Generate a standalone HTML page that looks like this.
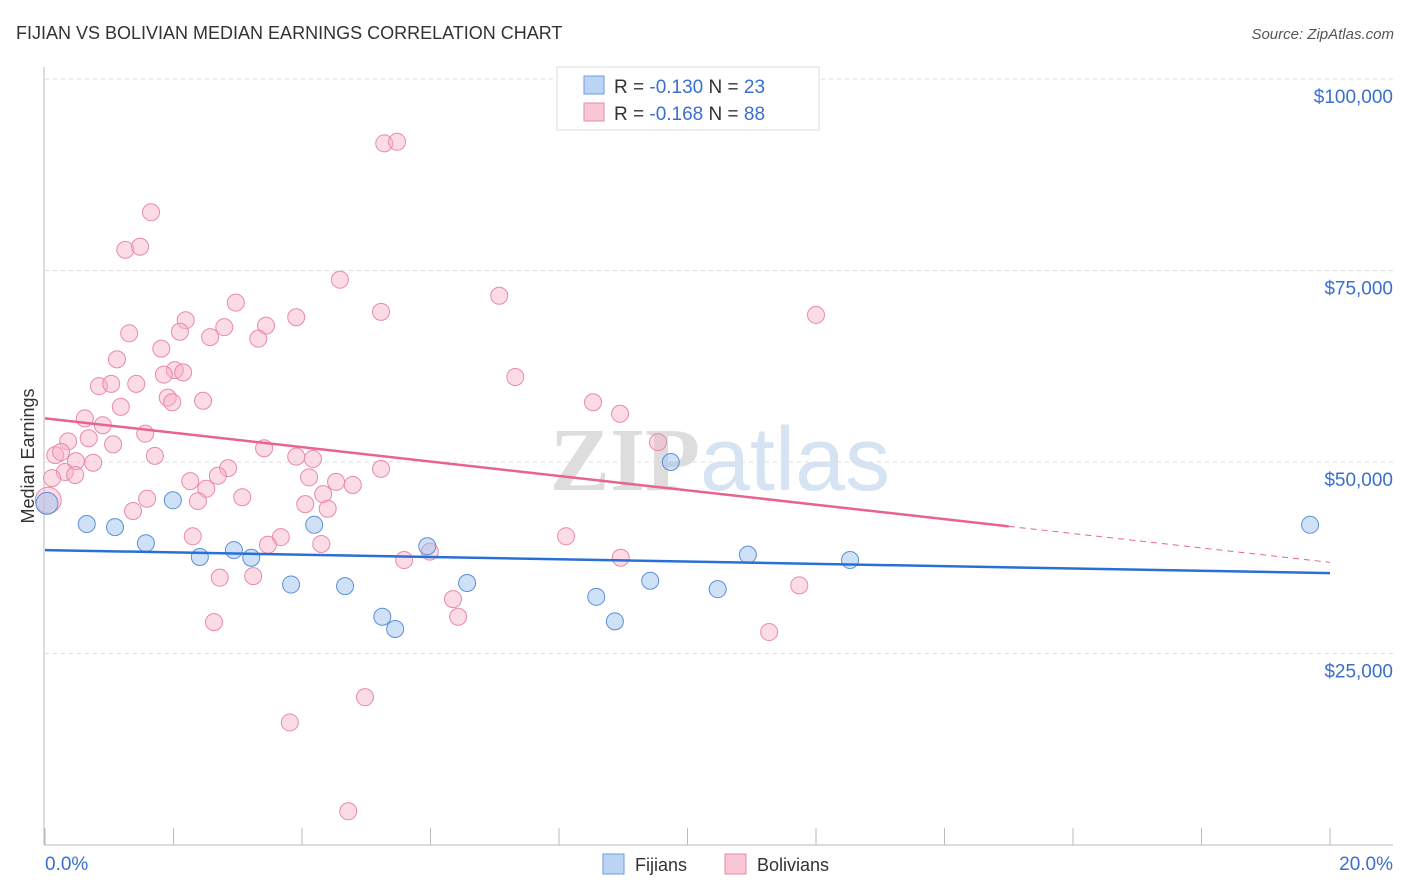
<!DOCTYPE html>
<html><head><meta charset="utf-8"><style>
body{margin:0;background:#fff;font-family:"Liberation Sans",sans-serif}
svg{display:block}
</style></head><body>
<svg id="chart" width="1406" height="892">
<text x="16" y="39" font-size="18" fill="#333">FIJIAN VS BOLIVIAN MEDIAN EARNINGS CORRELATION CHART</text>
<text x="1394" y="39" font-size="15" fill="#555" font-style="italic" text-anchor="end">Source: ZipAtlas.com</text>
<text x="720" y="490" font-size="90" fill="#e4e4e4" text-anchor="middle" font-family="Liberation Serif,serif"><tspan fill="#ddd" font-weight="bold">ZIP</tspan><tspan fill="#d6e3f3" font-family="Liberation Sans,sans-serif">atlas</tspan></text>
<g id="grid"></g><g id="axes"></g><g id="marks"></g>
<text transform="translate(34,456) rotate(-90)" font-size="18" fill="#333" text-anchor="middle">Median Earnings</text>
<g>
<rect x="557" y="67" width="262" height="63" fill="#fff" stroke="#ddd"/>
<rect x="584" y="76" width="20" height="18" fill="#bcd4f4" stroke="#6d9be0"/>
<text x="614" y="93" font-size="19" fill="#333">R = <tspan fill="#3a6fd0">-0.130</tspan>   N = <tspan fill="#3a6fd0">23</tspan></text>
<rect x="584" y="103" width="20" height="18" fill="#f9c6d4" stroke="#e88aa8"/>
<text x="614" y="120" font-size="19" fill="#333">R = <tspan fill="#3a6fd0">-0.168</tspan>   N = <tspan fill="#3a6fd0">88</tspan></text>
</g>
<g>
<rect x="603" y="854" width="21" height="20" fill="#bcd4f4" stroke="#6d9be0"/>
<text x="635" y="871" font-size="18" fill="#333">Fijians</text>
<rect x="725" y="854" width="21" height="20" fill="#f9c6d4" stroke="#e88aa8"/>
<text x="757" y="871" font-size="18" fill="#333">Bolivians</text>
</g>
</svg>
<script>
const yTicks=[25000,50000,75000,100000];
const yTickLabels=["$25,000","$50,000","$75,000","$100,000"];
const xTickCount=10;
const fijX=[0.03,0.65,1.09,1.57,1.99,2.41,2.94,3.21,3.83,4.19,4.67,5.25,5.45,5.95,6.57,8.58,8.87,9.42,9.74,10.47,10.94,12.53,19.69];
const fijY=[44.6,41.9,41.5,39.4,45.0,37.6,38.5,37.5,34.0,41.8,33.8,29.8,28.2,39.0,34.2,32.4,29.2,34.5,50.0,33.4,37.9,37.2,41.8];
const bolX=[5.28,5.48,1.65,1.25,1.48,4.59,7.07,2.97,5.23,3.91,12.0,2.19,2.79,3.44,1.31,2.10,2.57,3.32,1.81,1.12,2.02,1.85,2.15,7.32,0.84,1.03,1.42,1.91,1.98,2.46,1.18,8.53,8.95,0.62,0.90,1.56,0.36,0.68,1.06,3.41,9.54,0.16,1.71,0.48,0.75,3.91,4.17,0.31,0.47,2.85,2.69,2.26,4.11,5.23,2.51,4.53,4.79,4.33,1.59,3.07,2.38,4.05,4.40,1.37,2.30,3.67,3.47,4.30,8.11,5.59,5.99,8.96,2.72,3.24,11.74,6.35,6.43,2.63,11.27,4.98,3.81,4.72,0.11,0.25,0.05];
const bolY=[91.6,91.8,82.6,77.7,78.1,73.8,71.7,70.8,69.6,68.9,69.2,68.5,67.6,67.8,66.8,67.0,66.3,66.1,64.8,63.4,62.0,61.4,61.7,61.1,59.9,60.2,60.2,58.4,57.8,58.0,57.2,57.8,56.3,55.7,54.8,53.7,52.7,53.1,52.3,51.8,52.6,50.9,50.8,50.1,49.9,50.7,50.4,48.7,48.3,49.2,48.2,47.5,48.0,49.1,46.5,47.4,47.0,45.8,45.2,45.4,44.9,44.5,43.9,43.6,40.3,40.2,39.2,39.3,40.3,37.2,38.3,37.5,34.9,35.1,33.9,32.1,29.8,29.1,27.8,19.3,16.0,4.4,47.9,51.3,45.0];
const fijTrend=[38.5,35.5];
const bolTrend=[55.7,36.9];
const bolSolidEnd=15;
const NS="http://www.w3.org/2000/svg";
const X=v=>45+v/20*1285;
const Y=k=>845-k*1000/25000*191.5;
function mk(t,a,p){const e=document.createElementNS(NS,t);for(const k in a)e.setAttribute(k,a[k]);p.appendChild(e);return e;}
const grid=document.getElementById('grid'),axes=document.getElementById('axes'),marks=document.getElementById('marks');
yTicks.forEach((v,i)=>{
 const l=mk('line',{x1:45,x2:1393,y1:Y(v/1000),y2:Y(v/1000),stroke:'#ddd','stroke-dasharray':'4,4'},grid);
 
 
 const t=mk('text',{x:1393,y:Y(v/1000)+24,'font-size':19,fill:'#3a6fd0','text-anchor':'end'},axes);
 t.textContent=yTickLabels[i];
 
 
});
const ax=mk('line',{x1:44,x2:44,y1:67,y2:845,stroke:'#bbb'},axes);


const bx=mk('line',{x1:44,x2:1393,y1:845,y2:845,stroke:'#bbb'},axes);


for(let i=0;i<=xTickCount;i++){
 const t=mk('line',{x1:X(i*2),x2:X(i*2),y1:828,y2:845,stroke:'#bbb'},axes);
 
 
}
const x0=mk('text',{x:45,y:870,'font-size':19,fill:'#3a6fd0'},axes);x0.textContent='0.0%';


const x1=mk('text',{x:1393,y:870,'font-size':19,fill:'#3a6fd0','text-anchor':'end'},axes);x1.textContent='20.0%';


bolX.forEach((x,i)=>{
 const c=mk('circle',{cx:X(x),cy:Y(bolY[i]),r:(i==bolX.length-1)?13:8.5,fill:'rgba(246,176,198,0.45)',stroke:'#e98aa8','stroke-width':1},marks);
 
 
});
fijX.forEach((x,i)=>{
 const c=mk('circle',{cx:X(x),cy:Y(fijY[i]),r:i==0?11:8.5,fill:'rgba(160,196,240,0.5)',stroke:'#5b8fd8','stroke-width':1},marks);
 
 
});
const by=x=>bolTrend[0]+(bolTrend[1]-bolTrend[0])*x/20;
const bl=mk('line',{x1:X(0),y1:Y(by(0)),x2:X(bolSolidEnd),y2:Y(by(bolSolidEnd)),stroke:'#e8638f','stroke-width':2.5},marks);


const bd=mk('line',{x1:X(bolSolidEnd),y1:Y(by(bolSolidEnd)),x2:X(20),y2:Y(by(20)),stroke:'#e8638f','stroke-width':1,'stroke-dasharray':'6,5'},marks);


const fl=mk('line',{x1:X(0),y1:Y(fijTrend[0]),x2:X(20),y2:Y(fijTrend[1]),stroke:'#2a6fd6','stroke-width':2.5},marks);


</script>
</body></html>
